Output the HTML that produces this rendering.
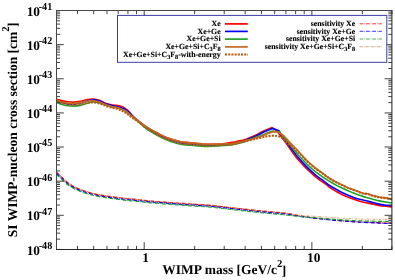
<!DOCTYPE html>
<html><head><meta charset="utf-8"><title>plot</title><style>html,body{margin:0;padding:0;background:#fff}</style></head><body>
<svg width="395" height="280" viewBox="0 0 395 280" style="display:block">
<rect width="395" height="280" fill="#fff"/>
<g fill="none" stroke-linejoin="round" stroke-linecap="butt">
<g stroke-width="1.2" stroke-dasharray="3.8 1 0.5 1">
<path d="M56.6,172.4C57.4,173.0 59.4,174.8 61.1,176.4C62.9,178.1 64.8,180.3 67.1,182.1C69.4,184.0 72.2,185.8 75.2,187.4C78.2,188.9 82.0,190.3 85.4,191.4C88.8,192.5 92.1,193.4 95.5,194.1C98.9,194.9 102.2,195.4 105.6,195.9C109.0,196.5 112.3,196.9 115.7,197.3C119.1,197.8 122.7,198.2 125.9,198.5C129.1,198.9 130.9,199.0 135.0,199.4C139.1,199.9 144.3,200.5 150.2,201.0C156.1,201.6 163.8,202.1 170.5,202.6C177.2,203.1 184.1,203.6 190.7,204.0C197.3,204.5 204.2,204.8 210.0,205.3C215.8,205.8 219.3,206.4 225.2,207.0C231.1,207.7 238.8,208.6 245.5,209.3C252.2,210.1 259.1,210.8 265.7,211.4C272.3,212.1 279.3,212.4 285.0,213.1C290.7,213.9 295.0,215.2 300.0,216.0C305.0,216.8 309.1,217.4 315.0,218.1C320.9,218.8 328.4,219.5 335.2,220.1C341.9,220.7 348.8,221.3 355.5,221.7C362.2,222.1 369.7,222.4 375.7,222.7C381.7,223.0 388.9,223.2 391.5,223.3" stroke="#ff0000"/>
<path d="M56.6,173.5C57.4,174.2 59.4,176.0 61.1,177.6C62.9,179.2 64.8,181.4 67.1,183.2C69.4,185.0 72.2,186.8 75.2,188.3C78.2,189.8 82.0,191.2 85.4,192.3C88.8,193.4 92.1,194.2 95.5,195.0C98.9,195.8 102.2,196.3 105.6,196.8C109.0,197.3 112.3,197.8 115.7,198.2C119.1,198.6 122.7,199.1 125.9,199.4C129.1,199.8 130.9,199.9 135.0,200.3C139.1,200.7 144.3,201.4 150.2,201.9C156.1,202.4 163.8,203.0 170.5,203.5C177.2,204.0 184.1,204.5 190.7,204.9C197.3,205.3 204.2,205.7 210.0,206.2C215.8,206.7 219.3,207.2 225.2,207.9C231.1,208.6 238.8,209.5 245.5,210.2C252.2,210.9 259.1,211.7 265.7,212.3C272.3,212.9 279.3,213.3 285.0,214.0C290.7,214.7 295.0,215.6 300.0,216.3C305.0,217.0 309.1,217.6 315.0,218.3C320.9,219.0 328.4,219.7 335.2,220.3C341.9,220.9 348.8,221.5 355.5,221.9C362.2,222.3 369.7,222.6 375.7,222.9C381.7,223.2 388.9,223.4 391.5,223.5" stroke="#0000ff" stroke-dasharray="3.9 1.02 0.5 1.02"/>
<path d="M56.6,174.6C57.4,175.3 59.4,177.2 61.1,178.8C62.9,180.4 64.8,182.5 67.1,184.3C69.4,186.0 72.2,187.8 75.2,189.2C78.2,190.7 82.0,192.1 85.4,193.2C88.8,194.3 92.1,195.1 95.5,195.9C98.9,196.6 102.2,197.1 105.6,197.7C109.0,198.2 112.3,198.6 115.7,199.1C119.1,199.5 122.7,199.9 125.9,200.3C129.1,200.6 130.9,200.7 135.0,201.2C139.1,201.6 144.3,202.2 150.2,202.8C156.1,203.3 163.8,203.9 170.5,204.4C177.2,204.9 184.1,205.3 190.7,205.8C197.3,206.2 204.2,206.6 210.0,207.1C215.8,207.6 219.3,208.1 225.2,208.8C231.1,209.4 238.8,210.3 245.5,211.1C252.2,211.8 259.1,212.5 265.7,213.2C272.3,213.8 279.3,214.3 285.0,214.9C290.7,215.4 295.0,216.0 300.0,216.5C305.0,217.0 309.1,217.2 315.0,217.7C320.9,218.2 328.4,218.8 335.2,219.3C341.9,219.8 348.8,220.4 355.5,220.7C362.2,221.0 369.7,221.2 375.7,221.3C381.7,221.4 388.9,221.5 391.5,221.5" stroke="#1fa12a" stroke-dasharray="4 1.04 0.5 1.04"/>
<path d="M56.6,171.9C57.4,172.6 59.4,174.3 61.1,176.0C62.9,177.6 64.8,179.9 67.1,181.7C69.4,183.5 72.2,185.4 75.2,187.0C78.2,188.5 82.0,189.9 85.4,191.0C88.8,192.2 92.1,193.0 95.5,193.8C98.9,194.5 102.2,195.0 105.6,195.6C109.0,196.1 112.3,196.6 115.7,197.0C119.1,197.4 122.7,197.8 125.9,198.2C129.1,198.5 130.9,198.7 135.0,199.1C139.1,199.5 144.3,200.2 150.2,200.7C156.1,201.2 163.8,201.8 170.5,202.3C177.2,202.8 184.1,203.2 190.7,203.7C197.3,204.1 204.2,204.5 210.0,205.0C215.8,205.5 219.3,206.0 225.2,206.7C231.1,207.4 238.8,208.3 245.5,209.0C252.2,209.7 259.1,210.5 265.7,211.1C272.3,211.7 279.3,212.1 285.0,212.8C290.7,213.5 295.0,214.6 300.0,215.2C305.0,215.8 309.1,215.9 315.0,216.3C320.9,216.7 328.4,217.3 335.2,217.7C341.9,218.1 348.8,218.6 355.5,218.9C362.2,219.2 369.7,219.2 375.7,219.3C381.7,219.4 388.9,219.5 391.5,219.5" stroke="#c46a22" stroke-width="0.8" stroke-opacity="0.75" stroke-dasharray="2.6 0.8 0.5 0.8 0.5 0.8"/>
</g>
<g stroke-width="1.6">
<path d="M56.5,99.2C57.3,99.4 59.4,100.2 61.3,100.6C63.2,101.0 65.6,101.5 67.7,101.7C69.8,102.0 71.9,102.2 74.0,102.1C76.1,102.0 78.2,101.7 80.3,101.3C82.4,100.9 84.5,100.2 86.6,99.8C88.7,99.4 90.8,98.9 93.0,99.0C95.2,99.1 97.3,99.5 99.5,100.3C101.7,101.1 104.1,102.8 106.3,103.6C108.5,104.4 110.6,104.7 112.7,105.0C114.8,105.3 117.3,105.4 119.0,105.7C120.7,106.0 121.3,106.1 122.8,106.9C124.3,107.7 126.3,109.0 127.8,110.3C129.3,111.6 129.9,113.1 131.6,114.8C133.3,116.5 135.6,118.7 138.0,120.7C140.4,122.7 143.3,125.0 146.2,126.8C149.0,128.7 152.4,130.5 155.1,131.9C157.8,133.4 159.9,134.6 162.4,135.8C164.9,136.9 167.1,137.9 170.1,138.8C173.1,139.8 176.9,141.0 180.2,141.7C183.5,142.3 186.8,142.5 190.1,142.8C193.4,143.2 197.0,143.5 200.0,143.8C203.0,144.0 205.2,144.3 208.1,144.4C211.0,144.4 214.7,144.3 217.5,144.2C220.3,144.1 222.5,143.8 225.0,143.5C227.5,143.2 230.4,142.8 232.7,142.4C235.0,142.0 236.9,141.4 239.0,140.9C241.1,140.4 242.8,140.3 245.5,139.4C248.2,138.5 252.2,136.9 255.0,135.6C257.8,134.3 259.9,132.7 262.0,131.7C264.1,130.7 265.6,130.1 267.3,129.4C269.0,128.7 270.6,128.2 272.2,127.6C273.8,128.8 275.4,130.1 277.0,131.3C277.5,131.9 277.2,131.4 278.6,133.2C280.0,135.0 283.3,139.3 285.5,142.3C287.7,145.3 289.8,148.6 291.6,151.1C293.4,153.6 294.5,155.3 296.3,157.6C298.1,159.8 300.6,162.4 302.7,164.6C304.8,166.8 306.9,168.9 309.0,170.9C311.1,172.9 313.2,174.8 315.3,176.6C317.4,178.3 319.8,180.1 321.6,181.4C323.4,182.7 324.7,183.4 326.1,184.4C327.5,185.4 328.3,186.5 330.0,187.7C331.7,188.9 334.2,190.3 336.3,191.5C338.4,192.7 340.6,194.0 342.7,195.0C344.8,196.0 346.9,196.7 349.0,197.5C351.1,198.3 353.2,199.0 355.3,199.7C357.4,200.4 359.5,201.2 361.6,201.8C363.7,202.4 365.9,202.7 368.0,203.1C370.1,203.5 372.3,204.0 374.3,204.4C376.3,204.8 378.1,205.3 380.0,205.6C381.9,205.9 383.9,205.9 385.9,206.1C387.9,206.3 390.8,206.8 391.8,206.9" stroke="#ff0000"/>
<path d="M56.5,100.6C57.3,100.9 59.4,102.0 61.3,102.6C63.2,103.2 65.6,103.7 67.7,104.0C69.8,104.3 71.9,104.5 74.0,104.3C76.1,104.1 78.2,103.5 80.3,103.0C82.4,102.5 84.5,101.6 86.6,101.1C88.7,100.6 90.8,99.9 93.0,99.9C95.2,99.9 97.3,100.3 99.5,101.0C101.7,101.7 104.1,103.3 106.3,104.1C108.5,104.9 110.6,105.2 112.7,105.7C114.8,106.2 116.9,106.4 119.0,107.0C121.1,107.6 123.4,108.4 125.3,109.5C127.2,110.6 129.0,112.2 130.4,113.5C131.8,114.8 132.7,116.2 134.0,117.5C135.3,118.8 136.0,119.3 138.0,121.0C140.0,122.7 143.3,125.9 146.2,128.0C149.0,130.0 152.4,131.9 155.1,133.4C157.8,135.0 159.9,136.1 162.4,137.3C164.9,138.5 167.1,139.4 170.1,140.4C173.1,141.5 176.9,142.6 180.2,143.3C183.5,144.0 186.8,144.2 190.1,144.5C193.4,144.8 197.0,145.1 200.0,145.3C203.0,145.5 205.2,145.7 208.1,145.7C211.0,145.8 214.7,145.5 217.5,145.4C220.3,145.2 222.5,145.1 225.0,144.9C227.5,144.7 230.4,144.7 232.7,144.3C235.0,143.9 236.9,143.5 239.0,142.8C241.1,142.1 242.8,141.4 245.5,140.3C248.2,139.2 252.2,137.7 255.0,136.5C257.8,135.3 259.9,134.0 262.0,133.0C264.1,132.0 265.5,131.4 267.3,130.6C269.1,129.8 270.8,129.1 272.6,128.4C274.8,129.2 276.9,130.0 279.1,130.8C280.0,132.3 280.5,133.5 281.7,135.3C282.9,137.1 284.6,139.0 286.5,141.6C288.4,144.2 291.2,148.4 293.2,151.1C295.1,153.8 296.3,155.3 298.2,157.6C300.1,159.8 302.5,162.4 304.6,164.6C306.7,166.8 308.8,168.9 310.9,170.9C313.0,172.9 315.1,174.7 317.2,176.3C319.3,178.0 322.0,179.7 323.5,180.8C325.0,181.9 324.7,181.9 326.0,182.8C327.3,183.8 329.4,185.4 331.1,186.5C332.8,187.6 334.6,188.4 336.1,189.2C337.6,190.0 338.3,190.6 340.0,191.5C341.7,192.4 344.2,193.7 346.4,194.6C348.5,195.5 350.8,196.4 352.9,197.2C355.0,198.0 357.1,198.6 359.3,199.2C361.6,199.8 364.1,200.2 366.4,200.8C368.7,201.4 370.8,201.9 372.9,202.5C375.0,203.1 377.1,203.7 379.3,204.1C381.5,204.5 383.8,204.9 385.9,205.2C388.0,205.5 390.8,205.8 391.8,205.9" stroke="#0000ff"/>
<path d="M56.5,102.3C57.3,102.6 59.4,103.6 61.3,104.2C63.2,104.8 65.6,105.4 67.7,105.7C69.8,106.0 71.9,106.1 74.0,106.1C76.1,106.0 78.2,105.8 80.3,105.4C82.4,105.0 84.5,104.1 86.6,103.5C88.7,102.9 90.8,102.0 93.0,101.9C95.2,101.8 97.3,102.2 99.5,102.8C101.7,103.4 103.8,104.6 106.0,105.3C108.2,106.0 110.5,106.5 112.7,107.0C114.9,107.5 116.9,107.6 119.0,108.3C121.1,109.0 123.2,109.8 125.3,111.1C127.4,112.4 129.5,114.5 131.6,116.2C133.7,117.9 135.6,119.4 138.0,121.4C140.4,123.5 143.3,126.4 146.2,128.5C149.0,130.6 152.4,132.5 155.1,134.1C157.8,135.7 159.9,136.8 162.4,138.0C164.9,139.2 167.1,140.2 170.1,141.2C173.1,142.2 176.9,143.4 180.2,144.1C183.5,144.8 186.8,145.0 190.1,145.3C193.4,145.6 197.0,145.8 200.0,146.0C203.0,146.2 205.2,146.4 208.1,146.4C211.0,146.4 214.7,146.1 217.5,145.9C220.3,145.8 222.5,145.6 225.0,145.4C227.5,145.2 230.4,145.0 232.7,144.6C235.0,144.2 236.9,143.6 239.0,143.1C241.1,142.6 242.8,142.3 245.5,141.4C248.2,140.5 252.2,138.5 255.0,137.5C257.8,136.5 259.9,136.1 262.0,135.3C264.1,134.6 265.5,133.7 267.3,133.0C269.1,132.3 270.8,131.7 272.6,131.1C274.8,131.4 277.1,131.6 279.3,131.9C280.7,133.6 282.0,135.2 283.5,137.0C285.0,138.8 286.5,140.2 288.4,142.6C290.3,144.9 292.9,148.7 294.8,151.1C296.8,153.5 298.2,154.9 300.1,157.0C302.1,159.1 304.4,161.6 306.5,163.7C308.6,165.8 310.7,167.8 312.8,169.6C314.9,171.4 316.9,172.8 319.1,174.4C321.3,176.0 324.0,177.9 326.0,179.2C328.0,180.5 329.4,181.3 331.1,182.3C332.8,183.3 334.4,184.2 336.1,185.1C337.8,186.0 339.5,186.7 341.2,187.5C342.9,188.3 344.4,189.1 346.4,190.0C348.3,190.9 350.8,191.8 352.9,192.7C355.0,193.6 357.1,194.5 359.3,195.3C361.6,196.1 364.1,196.7 366.4,197.4C368.7,198.1 370.8,198.7 372.9,199.3C375.0,199.9 377.1,200.5 379.3,200.9C381.5,201.3 383.8,201.7 385.9,202.0C388.0,202.3 390.8,202.8 391.8,203.0" stroke="#1fa12a"/>
<path d="M56.5,100.0C57.3,100.3 59.4,101.3 61.3,101.8C63.2,102.3 65.6,102.8 67.7,103.1C69.8,103.3 71.9,103.4 74.0,103.3C76.1,103.2 78.2,102.8 80.3,102.4C82.4,102.0 84.5,101.4 86.6,101.1C88.7,100.8 90.8,100.4 93.0,100.6C95.2,100.8 97.3,101.3 99.5,102.0C101.7,102.7 103.8,104.0 106.0,104.8C108.2,105.6 110.5,106.2 112.7,106.7C114.9,107.2 116.9,107.2 119.0,107.9C121.1,108.6 123.2,109.4 125.3,110.7C127.4,112.0 129.5,114.1 131.6,115.8C133.7,117.5 135.6,119.1 138.0,120.9C140.4,122.7 143.3,124.9 146.2,126.7C149.0,128.5 152.4,130.3 155.1,131.8C157.8,133.3 159.9,134.5 162.4,135.6C164.9,136.8 167.1,137.7 170.1,138.7C173.1,139.7 176.9,140.8 180.2,141.5C183.5,142.2 186.8,142.3 190.1,142.7C193.4,143.0 197.0,143.4 200.0,143.6C203.0,143.9 205.2,144.1 208.1,144.2C211.0,144.3 214.7,144.1 217.5,144.1C220.3,144.0 222.5,143.9 225.0,143.8C227.5,143.7 230.4,143.9 232.7,143.6C235.0,143.3 236.9,142.6 239.0,142.1C241.1,141.6 242.7,141.2 245.5,140.5C248.3,139.8 252.8,138.7 255.6,137.9C258.4,137.2 260.1,136.7 262.0,136.0C263.9,135.3 265.5,134.5 267.3,133.8C269.1,133.1 270.8,132.5 272.6,131.9C274.3,131.9 276.1,131.8 277.8,131.8C279.8,133.1 281.6,133.9 283.8,135.8C286.0,137.7 288.5,140.9 290.8,143.4C293.1,145.9 295.8,148.4 297.8,150.6C299.8,152.8 301.0,154.4 302.9,156.4C304.8,158.4 306.9,160.8 309.0,162.7C311.1,164.6 313.2,166.4 315.3,168.0C317.4,169.6 319.8,171.2 321.6,172.5C323.4,173.8 324.4,174.8 326.0,175.9C327.6,177.0 329.4,178.2 331.1,179.2C332.8,180.2 334.4,181.1 336.1,182.0C337.8,182.9 339.5,183.6 341.2,184.4C342.9,185.2 344.4,186.1 346.4,186.9C348.3,187.8 350.8,188.7 352.9,189.5C355.0,190.3 357.5,191.2 359.3,191.9C361.1,192.6 362.5,193.2 363.9,193.5C365.3,193.8 366.4,193.4 367.7,193.7C369.0,194.0 370.2,194.8 371.6,195.2C373.0,195.6 374.6,196.0 376.1,196.3C377.6,196.7 379.0,197.0 380.6,197.3C382.2,197.6 384.0,197.6 385.9,197.9C387.8,198.2 390.8,198.8 391.8,199.0" stroke="#c46a22"/>
<path d="M56.5,101.0C57.3,101.3 59.4,102.2 61.3,102.7C63.2,103.2 65.6,103.9 67.7,104.2C69.8,104.5 71.9,104.6 74.0,104.6C76.1,104.6 78.2,104.5 80.3,104.2C82.4,103.9 84.5,103.3 86.6,103.0C88.7,102.7 90.9,102.3 93.0,102.4C95.1,102.5 97.3,103.0 99.3,103.5C101.3,104.0 103.8,105.0 105.0,105.5C106.2,106.0 105.0,105.9 106.3,106.3C107.6,106.7 110.6,107.4 112.7,107.9C114.8,108.4 116.9,108.7 119.0,109.5C121.1,110.3 123.2,111.3 125.3,112.6C127.4,113.9 129.5,115.8 131.6,117.3C133.7,118.8 135.6,119.8 138.0,121.6C140.4,123.4 143.3,125.9 146.2,127.9C149.0,129.8 152.4,131.7 155.1,133.3C157.8,134.8 159.9,136.0 162.4,137.1C164.9,138.3 167.1,139.3 170.1,140.3C173.1,141.3 176.9,142.5 180.2,143.2C183.5,143.8 186.8,144.0 190.1,144.4C193.4,144.7 197.0,144.9 200.0,145.1C203.0,145.4 205.2,145.6 208.1,145.6C211.0,145.6 214.7,145.4 217.5,145.3C220.3,145.2 222.5,145.0 225.0,144.9C227.5,144.7 230.4,144.6 232.7,144.3C235.0,144.0 236.9,143.3 239.0,142.8C241.1,142.3 242.7,141.8 245.5,141.1C248.3,140.4 252.8,139.4 255.6,138.8C258.4,138.2 260.2,138.0 262.0,137.6C263.8,137.2 264.8,136.7 266.6,136.4C268.4,136.1 270.8,135.8 272.6,135.7C274.4,135.6 275.9,135.8 277.2,136.0C278.5,136.2 279.2,136.4 280.2,136.8C281.2,137.2 282.1,138.0 283.0,138.6C284.3,139.9 285.7,141.2 287.0,142.4C288.3,143.6 289.7,144.8 291.0,146.0C292.3,147.2 293.7,148.1 295.0,149.3C296.3,150.5 297.7,151.8 299.0,153.0C300.3,154.2 301.2,155.0 302.9,156.7C304.6,158.4 306.9,161.1 309.0,163.0C311.1,164.9 313.2,166.7 315.3,168.3C317.4,169.9 319.8,171.5 321.6,172.8C323.4,174.1 324.4,175.1 326.0,176.2C327.6,177.3 329.4,178.5 331.1,179.5C332.8,180.5 334.4,181.4 336.1,182.3C337.8,183.2 339.5,183.9 341.2,184.7C342.9,185.5 344.4,186.4 346.4,187.2C348.3,188.1 350.8,189.0 352.9,189.8C355.0,190.6 357.5,191.5 359.3,192.2C361.1,192.9 362.5,193.5 363.9,193.8C365.3,194.1 366.4,193.7 367.7,194.0C369.0,194.3 370.2,195.1 371.6,195.5C373.0,195.9 374.6,196.3 376.1,196.6C377.6,197.0 379.0,197.3 380.6,197.6C382.2,197.9 384.0,197.9 385.9,198.2C387.8,198.5 390.8,199.1 391.8,199.3" stroke="#b85c14" stroke-width="2.1" stroke-dasharray="2.1 1.1"/>
</g></g>
<path d="M56.5,249.45h7.3M391.9,249.45h-7.3M56.5,239.17h3.6M391.9,239.17h-3.6M56.5,233.16h3.6M391.9,233.16h-3.6M56.5,228.90h3.6M391.9,228.90h-3.6M56.5,225.59h3.6M391.9,225.59h-3.6M56.5,222.89h3.6M391.9,222.89h-3.6M56.5,220.60h3.6M391.9,220.60h-3.6M56.5,218.62h3.6M391.9,218.62h-3.6M56.5,216.88h3.6M391.9,216.88h-3.6M56.5,215.31h7.3M391.9,215.31h-7.3M56.5,205.04h3.6M391.9,205.04h-3.6M56.5,199.03h3.6M391.9,199.03h-3.6M56.5,194.76h3.6M391.9,194.76h-3.6M56.5,191.45h3.6M391.9,191.45h-3.6M56.5,188.75h3.6M391.9,188.75h-3.6M56.5,186.47h3.6M391.9,186.47h-3.6M56.5,184.49h3.6M391.9,184.49h-3.6M56.5,182.74h3.6M391.9,182.74h-3.6M56.5,181.18h7.3M391.9,181.18h-7.3M56.5,170.90h3.6M391.9,170.90h-3.6M56.5,164.89h3.6M391.9,164.89h-3.6M56.5,160.63h3.6M391.9,160.63h-3.6M56.5,157.32h3.6M391.9,157.32h-3.6M56.5,154.62h3.6M391.9,154.62h-3.6M56.5,152.33h3.6M391.9,152.33h-3.6M56.5,150.35h3.6M391.9,150.35h-3.6M56.5,148.60h3.6M391.9,148.60h-3.6M56.5,147.04h7.3M391.9,147.04h-7.3M56.5,136.77h3.6M391.9,136.77h-3.6M56.5,130.76h3.6M391.9,130.76h-3.6M56.5,126.49h3.6M391.9,126.49h-3.6M56.5,123.18h3.6M391.9,123.18h-3.6M56.5,120.48h3.6M391.9,120.48h-3.6M56.5,118.19h3.6M391.9,118.19h-3.6M56.5,116.22h3.6M391.9,116.22h-3.6M56.5,114.47h3.6M391.9,114.47h-3.6M56.5,112.91h7.3M391.9,112.91h-7.3M56.5,102.63h3.6M391.9,102.63h-3.6M56.5,96.62h3.6M391.9,96.62h-3.6M56.5,92.36h3.6M391.9,92.36h-3.6M56.5,89.05h3.6M391.9,89.05h-3.6M56.5,86.34h3.6M391.9,86.34h-3.6M56.5,84.06h3.6M391.9,84.06h-3.6M56.5,82.08h3.6M391.9,82.08h-3.6M56.5,80.33h3.6M391.9,80.33h-3.6M56.5,78.77h7.3M391.9,78.77h-7.3M56.5,68.50h3.6M391.9,68.50h-3.6M56.5,62.48h3.6M391.9,62.48h-3.6M56.5,58.22h3.6M391.9,58.22h-3.6M56.5,54.91h3.6M391.9,54.91h-3.6M56.5,52.21h3.6M391.9,52.21h-3.6M56.5,49.92h3.6M391.9,49.92h-3.6M56.5,47.94h3.6M391.9,47.94h-3.6M56.5,46.20h3.6M391.9,46.20h-3.6M56.5,44.64h7.3M391.9,44.64h-7.3M56.5,34.36h3.6M391.9,34.36h-3.6M56.5,28.35h3.6M391.9,28.35h-3.6M56.5,24.08h3.6M391.9,24.08h-3.6M56.5,20.78h3.6M391.9,20.78h-3.6M56.5,18.07h3.6M391.9,18.07h-3.6M56.5,15.79h3.6M391.9,15.79h-3.6M56.5,13.81h3.6M391.9,13.81h-3.6M56.5,12.06h3.6M391.9,12.06h-3.6M56.5,10.50h7.3M391.9,10.50h-7.3M56.50,249.45v-3.6M56.50,10.5v3.6M77.45,249.45v-3.6M77.45,10.5v3.6M93.70,249.45v-3.6M93.70,10.5v3.6M106.98,249.45v-3.6M106.98,10.5v3.6M118.21,249.45v-3.6M118.21,10.5v3.6M127.93,249.45v-3.6M127.93,10.5v3.6M136.51,249.45v-3.6M136.51,10.5v3.6M144.19,249.45v-7.3M144.19,10.5v7.3M194.67,249.45v-3.6M194.67,10.5v3.6M224.20,249.45v-3.6M224.20,10.5v3.6M245.15,249.45v-3.6M245.15,10.5v3.6M261.40,249.45v-3.6M261.40,10.5v3.6M274.68,249.45v-3.6M274.68,10.5v3.6M285.91,249.45v-3.6M285.91,10.5v3.6M295.63,249.45v-3.6M295.63,10.5v3.6M304.21,249.45v-3.6M304.21,10.5v3.6M311.89,249.45v-7.3M311.89,10.5v7.3M362.37,249.45v-3.6M362.37,10.5v3.6M391.90,249.45v-3.6M391.90,10.5v3.6" stroke="#383838" stroke-width="0.95" fill="none"/>
<rect x="117.5" y="15.4" width="269.3" height="46.9" fill="#fff" stroke="#3c3ca8" stroke-width="1"/>
<path d="M56.5,249.95V10.5M56.0,10.5H392.4" fill="none" stroke="#484848" stroke-width="1"/>
<path d="M391.9,10.5V249.95M392.4,249.45H56.0" fill="none" stroke="#262626" stroke-width="1.05"/>
<g font-family="'Liberation Serif','Times New Roman',serif" font-weight="bold" fill="#000" text-rendering="geometricPrecision">
<text transform="translate(26.7,254.5) scale(1,1.0)" font-size="13.35">10<tspan dx="-1.3" dy="-5.80" font-size="10.68" textLength="13.5" lengthAdjust="spacingAndGlyphs">-48</tspan></text>
<text transform="translate(26.7,220.4) scale(1,1.0)" font-size="13.35">10<tspan dx="-1.3" dy="-5.80" font-size="10.68" textLength="13.5" lengthAdjust="spacingAndGlyphs">-47</tspan></text>
<text transform="translate(26.7,186.3) scale(1,1.0)" font-size="13.35">10<tspan dx="-1.3" dy="-5.80" font-size="10.68" textLength="13.5" lengthAdjust="spacingAndGlyphs">-46</tspan></text>
<text transform="translate(26.7,152.1) scale(1,1.0)" font-size="13.35">10<tspan dx="-1.3" dy="-5.80" font-size="10.68" textLength="13.5" lengthAdjust="spacingAndGlyphs">-45</tspan></text>
<text transform="translate(26.7,118.0) scale(1,1.0)" font-size="13.35">10<tspan dx="-1.3" dy="-5.80" font-size="10.68" textLength="13.5" lengthAdjust="spacingAndGlyphs">-44</tspan></text>
<text transform="translate(26.7,83.9) scale(1,1.0)" font-size="13.35">10<tspan dx="-1.3" dy="-5.80" font-size="10.68" textLength="13.5" lengthAdjust="spacingAndGlyphs">-43</tspan></text>
<text transform="translate(26.7,49.7) scale(1,1.0)" font-size="13.35">10<tspan dx="-1.3" dy="-5.80" font-size="10.68" textLength="13.5" lengthAdjust="spacingAndGlyphs">-42</tspan></text>
<text transform="translate(26.7,15.6) scale(1,1.0)" font-size="13.35">10<tspan dx="-1.3" dy="-5.80" font-size="10.68" textLength="13.5" lengthAdjust="spacingAndGlyphs">-41</tspan></text>
<text transform="translate(145.7,261.8) scale(1,1.0)" font-size="13.35" text-anchor="middle">1</text>
<text transform="translate(313.7,261.8) scale(1,1.0)" font-size="13.35" text-anchor="middle">10</text>
<text transform="translate(162.3,274.3) scale(1,1.0)" font-size="13.5">WIMP mass [GeV/c<tspan dy="-7.5" font-size="10.68">2</tspan><tspan dy="8" dx="-0.7">]</tspan></text>
<text transform="translate(16.6,237.2) rotate(-90) scale(1,1.0)" font-size="13.49">SI WIMP-nucleon cross section [cm<tspan dy="-7.2" font-size="10.68">2</tspan><tspan dy="7.7" dx="-0.7">]</tspan></text>
</g>
<g font-family="'Liberation Serif','Times New Roman',serif" font-weight="bold" fill="#000" text-rendering="geometricPrecision" stroke="#000" stroke-width="0.12">
<text transform="translate(220.6,26.2) scale(1,1.0)" font-size="7.8" text-anchor="end">Xe</text>
<text transform="translate(220.6,33.6) scale(1,1.0)" font-size="7.8" text-anchor="end">Xe+Ge</text>
<text transform="translate(220.6,41.4) scale(1,1.0)" font-size="7.8" text-anchor="end">Xe+Ge+Si</text>
<text transform="translate(220.6,49.1) scale(1,1.0)" font-size="7.8" text-anchor="end">Xe+Ge+Si+C<tspan dy="2.00" font-size="6.24">3</tspan><tspan dy="-2.00">F</tspan><tspan dy="2.00" font-size="6.24">8</tspan></text>
<text transform="translate(220.6,56.6) scale(1,1.0)" font-size="7.8" text-anchor="end">Xe+Ge+Si+C<tspan dy="2.00" font-size="6.24">3</tspan><tspan dy="-2.00">F</tspan><tspan dy="2.00" font-size="6.24">8</tspan><tspan dy="-2.00">-with-energy</tspan></text>
<text transform="translate(355.2,26.2) scale(1,1.0)" font-size="7.8" text-anchor="end">sensitivity Xe</text>
<text transform="translate(355.2,33.6) scale(1,1.0)" font-size="7.8" text-anchor="end">sensitivity Xe+Ge</text>
<text transform="translate(355.2,41.4) scale(1,1.0)" font-size="7.8" text-anchor="end">sensitivity Xe+Ge+Si</text>
<text transform="translate(355.2,49.1) scale(1,1.0)" font-size="7.8" text-anchor="end">sensitivity Xe+Ge+Si+C<tspan dy="2.00" font-size="6.24">3</tspan><tspan dy="-2.00">F</tspan><tspan dy="2.00" font-size="6.24">8</tspan></text>
</g>
<path d="M225,23.9H247.8" stroke="#ff0000" stroke-width="1.7" fill="none"/>
<path d="M225,31.4H247.8" stroke="#0000ff" stroke-width="1.7" fill="none"/>
<path d="M225,39.1H247.8" stroke="#1fa12a" stroke-width="1.7" fill="none"/>
<path d="M225,46.9H247.8" stroke="#c46a22" stroke-width="1.7" fill="none"/>
<path d="M225,54.5H248" stroke="#b85c14" stroke-width="2.1" stroke-dasharray="2.1 1.1" fill="none"/>
<path d="M359.6,23.8H381.8" stroke="#ff0000" stroke-width="0.8" stroke-dasharray="3.8 1 0.5 1" fill="none"/>
<path d="M359.6,31.3H381.8" stroke="#0000ff" stroke-width="0.8" stroke-dasharray="3.8 1 0.5 1" fill="none"/>
<path d="M359.6,39.0H381.8" stroke="#1fa12a" stroke-width="0.8" stroke-dasharray="3.8 1 0.5 1" fill="none"/>
<path d="M359.6,46.7H381.8" stroke="#cf9868" stroke-opacity="0.85" stroke-width="1.1" stroke-dasharray="3.4 0.9 0.6 0.9" fill="none"/>
</svg>
</body></html>
